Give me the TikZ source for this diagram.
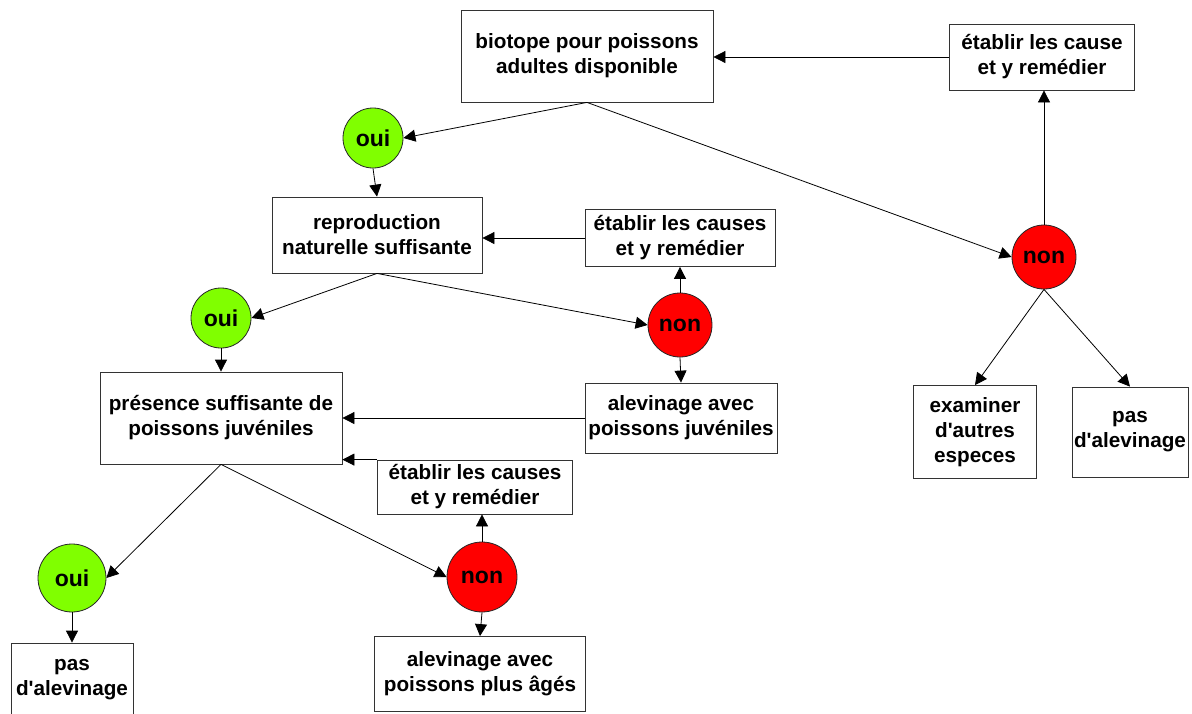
\documentclass[tikz,border=0pt]{standalone}
\usepackage{fontspec}
\setmainfont{Liberation Sans}
\usetikzlibrary{arrows.meta}

\definecolor{ouigreen}{RGB}{128,255,0}
\definecolor{nonred}{RGB}{255,0,0}

\tikzset{
  box/.style={draw=black!80, line width=0.8pt, fill=white, align=center, inner sep=0pt,
    font=\bfseries\fontsize{20.7}{25}\selectfont},
  oui/.style={circle, draw=black!85, line width=0.8pt, fill=ouigreen, inner sep=0pt,
    minimum size=60pt, font=\bfseries\fontsize{23}{26}\selectfont},
  non/.style={circle, draw=black!85, line width=0.8pt, fill=nonred, inner sep=0pt,
    minimum size=64pt, font=\bfseries\fontsize{23}{26}\selectfont},
  fleche/.style={-{Triangle[width=12pt,length=12pt]}, line width=0.8pt}
}

\begin{document}
\begin{tikzpicture}[x=1pt, y=-1pt]
    \useasboundingbox (0,0) rectangle (1192,713);

    % premier niveau
    \node[box, minimum width=252pt, minimum height=92pt] (biotope) at (587,56) {biotope pour poissons\\adultes disponible};
    \node[box, minimum width=185pt, minimum height=66pt] (causes1) at (1042,57) {établir les cause\\et y remédier};
    \node[non] (non1) at (1044,257) {non};
    \node[oui] (oui1) at (373,138) {oui};
    \node[box, minimum width=123pt, minimum height=93pt] (examiner) at (975,432) {examiner\\d\textquotesingle autres\\especes};
    \node[box, minimum width=116pt, minimum height=90pt] (pas2) at (1130,432) {pas\\d\textquotesingle alevinage};

    % deuxieme niveau
    \node[box, minimum width=210pt, minimum height=76pt] (repro) at (377,235) {reproduction\\naturelle suffisante};
    \node[box, minimum width=190pt, minimum height=57pt] (causes2) at (680,238) {établir les causes\\et y remédier};
    \node[oui] (oui2) at (221,318) {oui};
    \node[non] (non2) at (680,325) {non};
    \node[box, minimum width=192pt, minimum height=70pt] (juveniles) at (681,418) {alevinage avec\\poissons juvéniles};

    % troisieme niveau
    \node[box, minimum width=242pt, minimum height=92pt] (presence) at (221,418) {présence suffisante de\\poissons juvéniles};
    \node[box, minimum width=195pt, minimum height=54pt] (causes3) at (475,487) {établir les causes\\et y remédier};
    \node[oui, minimum size=68pt] (oui3) at (72,578) {oui};
    \node[non, minimum size=70pt] (non3) at (482,577) {non};
    \node[box, minimum width=122pt, minimum height=74pt] (pas1) at (72,680) {pas\\d\textquotesingle alevinage};
    \node[box, minimum width=211pt, minimum height=75pt] (ages) at (480,674) {alevinage avec\\poissons plus âgés};

    \draw[fleche] (causes1.west) -- (causes1.west -| biotope.east);
    \draw[fleche] (biotope.south) -- (oui1.east);
    \draw[fleche] (biotope.south) -- (non1.west);
    \draw[fleche] (non1.north) -- (non1.north |- causes1.south);
    \draw[fleche] (non1.south) -- (examiner.north);
    \draw[fleche] (non1.south) -- (pas2.north);

    \draw[fleche] (oui1.south) -- (repro.north);
    \draw[fleche] (causes2.west) -- (causes2.west -| repro.east);
    \draw[fleche] (repro.south) -- (oui2.east);
    \draw[fleche] (repro.south) -- (non2.west);
    \draw[fleche] (non2.north) -- (causes2.south);
    \draw[fleche] (non2.south) -- (juveniles.north);

    \draw[fleche] (oui2.south) -- (presence.north);
    \draw[fleche] (juveniles.west) -- (juveniles.west -| presence.east);
    \draw[fleche] (causes3.north west) -- (causes3.north west -| presence.east);
    \draw[fleche] (presence.south) -- (oui3.east);
    \draw[fleche] (presence.south) -- (non3.west);
    \draw[fleche] (non3.north) -- (non3.north |- causes3.south);
    \draw[fleche] (non3.south) -- (ages.north);
    \draw[fleche] (oui3.south) -- (pas1.north);
\end{tikzpicture}
\end{document}
